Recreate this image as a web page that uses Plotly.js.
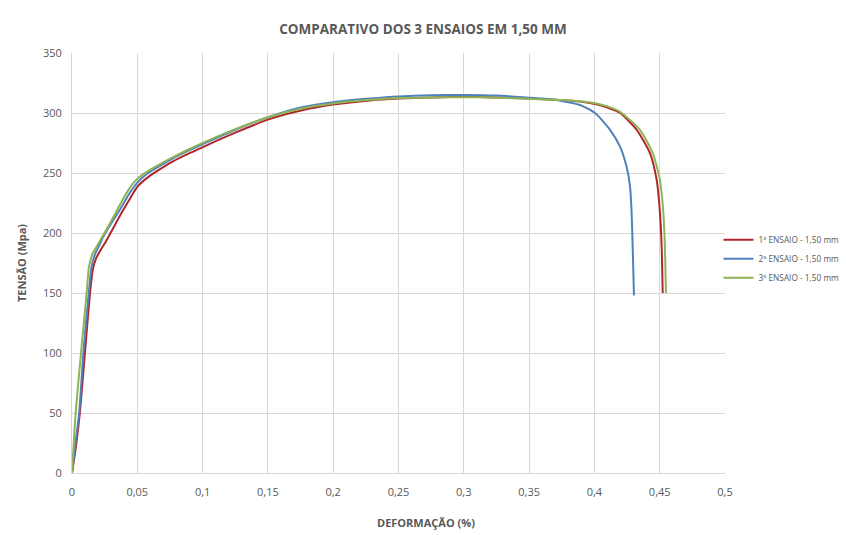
<!DOCTYPE html>
<html>
<head>
<meta charset="utf-8">
<script src="https://cdn.plot.ly/plotly-3.0.1.min.js"></script>
<style>html,body{margin:0;padding:0;background:#fff;}#chart{width:846px;height:535px;}</style>
</head>
<body>
<div id="chart"></div>
<script>
// Series names
const names = ["1º ENSAIO - 1,50 mm", "2º ENSAIO - 1,50 mm", "3º ENSAIO - 1,50 mm"];

// 1º ensaio (deformação, tensão)
const def1 = [0, 0.003, 0.006, 0.0099, 0.0138, 0.016, 0.0185, 0.022, 0.026, 0.031, 0.037, 0.044, 0.05, 0.057, 0.065, 0.077, 0.09, 0.104, 0.126, 0.15, 0.177, 0.2, 0.228, 0.25, 0.275, 0.3, 0.325, 0.35, 0.3737, 0.389, 0.4005, 0.41, 0.4196, 0.4324, 0.4426, 0.4477, 0.4502, 0.4515, 0.4523];
const ten1 = [0, 22, 50, 100, 150, 170, 179, 186, 193, 203, 215, 228, 238.5, 245.5, 251.5, 259.5, 266.5, 273.5, 284, 294.5, 302.5, 307, 310.5, 312, 313, 313.5, 313, 312, 310.8, 309.5, 307.5, 304.5, 300, 286, 266.4, 244, 216.7, 188.6, 150];

// 2º ensaio
const def2 = [0, 0.003, 0.0055, 0.0087, 0.0128, 0.015, 0.0175, 0.021, 0.024, 0.03, 0.037, 0.044, 0.05, 0.057, 0.065, 0.077, 0.09, 0.104, 0.126, 0.15, 0.177, 0.2, 0.228, 0.25, 0.275, 0.3, 0.325, 0.345, 0.36, 0.3737, 0.389, 0.4005, 0.412, 0.4196, 0.4247, 0.4273, 0.4285, 0.4293, 0.4303];
const ten2 = [0, 28, 50, 100, 150, 172, 182, 190, 197, 208, 220, 233, 242, 249, 254.5, 262, 269, 276, 286.5, 296.5, 305, 309, 312, 313.8, 314.8, 315, 314.5, 313.2, 312, 310.3, 306.7, 300, 286, 272, 255, 238.6, 216.7, 188.6, 148];

// 3º ensaio
const def3 = [0, 0.0028, 0.0069, 0.0112, 0.013, 0.0155, 0.0185, 0.0227, 0.028, 0.034, 0.041, 0.048, 0.055, 0.065, 0.077, 0.09, 0.104, 0.126, 0.15, 0.177, 0.2, 0.228, 0.25, 0.275, 0.3, 0.325, 0.35, 0.3737, 0.389, 0.4005, 0.41, 0.4196, 0.4349, 0.4449, 0.4502, 0.4528, 0.454, 0.4548];
const ten3 = [0, 50, 100, 150, 172, 182, 188, 196, 206, 218, 232, 243, 249.5, 256, 263, 270, 277, 287, 296.5, 304, 308, 311, 312.5, 313, 313.2, 312.8, 311.8, 310.8, 309.8, 308.2, 305.5, 301, 286, 266, 244, 216.7, 188.6, 150];

const colors = ["#B0262A", "#4F81BD", "#8DB556"];
const FONT = '"Open Sans", sans-serif';

const series = [[def1, ten1], [def2, ten2], [def3, ten3]];
const traces = series.map((s, i) => ({
  x: s[0], y: s[1], type: 'scatter', mode: 'lines', name: names[i],
  line: {color: colors[i], width: 2, shape: 'spline', smoothing: 0.6}
}));

const layout = {
  width: 846, height: 535,
  margin: {l: 72, r: 121, t: 53, b: 62, autoexpand: false},
  paper_bgcolor: '#ffffff', plot_bgcolor: '#ffffff',
  separators: ',.',
  font: {family: FONT, color: '#595959', size: 11},
  title: {text: '<b>COMPARATIVO DOS 3 ENSAIOS EM 1,50 MM</b>', font: {family: FONT, size: 13.5, color: '#595959'}, x: 0.5, xref: 'container', xanchor: 'center', y: 0.946, yanchor: 'middle'},
  xaxis: {
    range: [0, 0.5], dtick: 0.05, tick0: 0, showgrid: true, gridcolor: '#dcd6d6', gridwidth: 1,
    zeroline: false, showline: true, linecolor: '#dcd6d6', ticks: '', ticklabelstandoff: 9,
    tickfont: {family: FONT, size: 11, color: '#595959'}
  },
  yaxis: {
    range: [0, 350], dtick: 50, tick0: 0, showgrid: true, gridcolor: '#dcd6d6', gridwidth: 1,
    zeroline: false, showline: true, linecolor: '#dcd6d6', ticks: '', ticklabelstandoff: 7,
    tickfont: {family: FONT, size: 11, color: '#595959'},
    title: {text: '<b>TENSÃO (Mpa)</b>', font: {family: FONT, size: 11, color: '#595959'}, standoff: 14}
  },
  annotations: [{
    text: '<b>DEFORMAÇÃO (%)</b>', xref: 'paper', yref: 'paper', x: 0.542, y: -0.119,
    xanchor: 'center', yanchor: 'middle', showarrow: false,
    font: {family: FONT, size: 11, color: '#595959'}
  }],
  showlegend: true,
  legend: {x: 0.99, xanchor: 'left', y: 0.51, yanchor: 'middle', itemwidth: 30,
    font: {family: FONT, size: 8.3, color: '#595959'}, bgcolor: 'rgba(0,0,0,0)', tracegroupgap: 0}
};

Plotly.newPlot('chart', traces, layout, {displayModeBar: false, staticPlot: true});
</script>
</body>
</html>
